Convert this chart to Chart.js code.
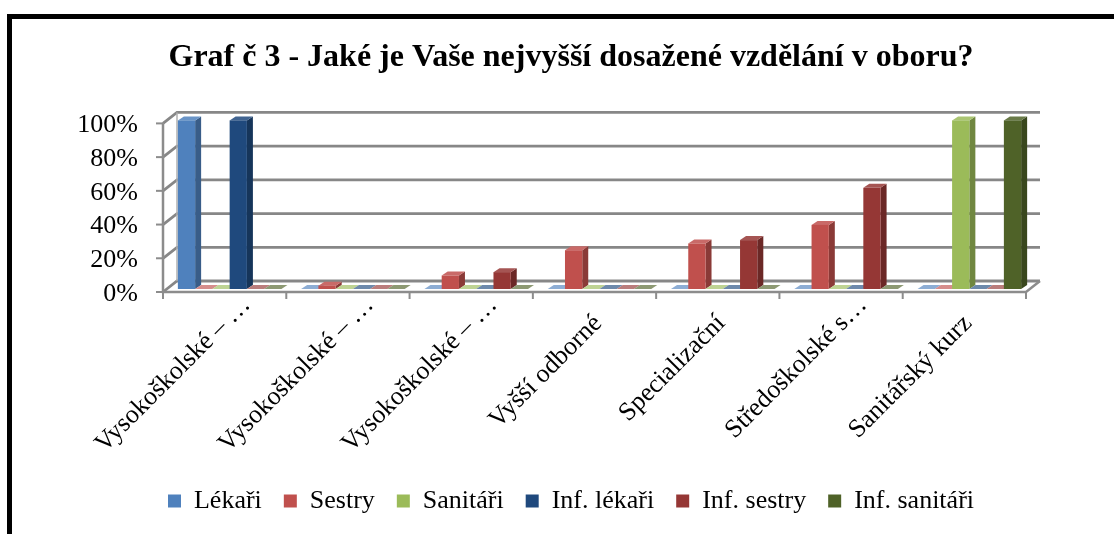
<!DOCTYPE html>
<html>
<head>
<meta charset="utf-8">
<script src="https://cdn.jsdelivr.net/npm/chart.js@4.4.0/dist/chart.umd.min.js"></script>
<style>
  html, body { margin: 0; padding: 0; background: #fff; overflow: hidden; }
  #wrap { position: relative; width: 1114px; height: 534px; }
  #ramecek { position: absolute; left: 7px; top: 14px; width: 1200px; height: 600px;
             border-top: 5px solid #000; border-left: 5px solid #000; pointer-events: none; }
</style>
</head>
<body>
<div id="wrap">
  <canvas id="graf" width="1114" height="534"></canvas>
  <div id="ramecek"></div>
</div>
<script>
const kategorie = ["Vysokoškolské – …", "Vysokoškolské – …", "Vysokoškolské – …", "Vyšší odborné",
                   "Specializační", "Středoškolské s…", "Sanitářský kurz"];
const serie = ["Lékaři", "Sestry", "Sanitáři", "Inf. lékaři", "Inf. sestry", "Inf. sanitáři"];
const lekari      = [100, 0, 0, 0, 0, 0, 0];
const sestry      = [0, 2, 8, 23, 27, 38, 0];
const sanitari    = [0, 0, 0, 0, 0, 0, 100];
const infLekari   = [100, 0, 0, 0, 0, 0, 0];
const infSestry   = [0, 0, 10, 0, 29, 60, 0];
const infSanitari = [0, 0, 0, 0, 0, 0, 100];
const osaY = [0, 20, 40, 60, 80, 100];
const barvy = ["#4F81BD", "#C0504D", "#9BBB59", "#1F497D", "#953735", "#4F6228"];

const pismo = '"Liberation Serif", "Times New Roman", serif';

// hloubka 3D efektu
const DX = 14, DY = -11;     // zadni stena
const bx = 6, by = -4;       // hloubka sloupce
const posun = 5;

function odstin(hex, k) {
  let r = parseInt(hex.slice(1, 3), 16), g = parseInt(hex.slice(3, 5), 16), b = parseInt(hex.slice(5, 7), 16);
  if (k < 1) { r *= k; g *= k; b *= k; }
  else { r += (255 - r) * (k - 1); g += (255 - g) * (k - 1); b += (255 - b) * (k - 1); }
  return `rgb(${Math.round(r)},${Math.round(g)},${Math.round(b)})`;
}

const hloubka = {
  id: 'hloubka',
  beforeDatasetDraw() { return false; },
  beforeDatasetsDraw(chart) {
    const {ctx, chartArea: a, scales: {y}} = chart;
    const f = v => y.getPixelForValue(v) + 3;
    const L = a.left, R = a.right;
    ctx.save();
    // podlaha
    ctx.fillStyle = '#fff';
    ctx.beginPath();
    ctx.moveTo(L, f(0)); ctx.lineTo(R, f(0)); ctx.lineTo(R + DX, f(0) + DY); ctx.lineTo(L + DX, f(0) + DY);
    ctx.closePath(); ctx.fill();
    // mrizka na zadni stene
    ctx.strokeStyle = '#878787';
    ctx.lineWidth = 2.8;
    osaY.forEach(v => {
      ctx.beginPath();
      ctx.moveTo(L, f(v)); ctx.lineTo(L + DX, f(v) + DY); ctx.lineTo(R + DX, f(v) + DY);
      ctx.stroke();
    });
    ctx.lineWidth = 1.5;
    ctx.strokeStyle = '#b0b0b0';
    ctx.beginPath();
    ctx.moveTo(L + DX, f(0) + DY); ctx.lineTo(L + DX, f(100) + DY);
    ctx.stroke();
    // predni osy
    ctx.strokeStyle = '#8c8c8c';
    ctx.lineWidth = 2.5;
    ctx.beginPath();
    ctx.moveTo(L, f(100)); ctx.lineTo(L, f(0)); ctx.lineTo(R, f(0)); ctx.lineTo(R + DX, f(0) + DY);
    ctx.stroke();
    ctx.lineWidth = 2;
    osaY.forEach(v => {
      ctx.beginPath(); ctx.moveTo(L - 7, f(v)); ctx.lineTo(L, f(v)); ctx.stroke();
    });
    const w = (R - L) / kategorie.length;
    for (let i = 0; i <= kategorie.length; i++) {
      ctx.beginPath(); ctx.moveTo(L + i * w, f(0)); ctx.lineTo(L + i * w, f(0) + 7); ctx.stroke();
    }
    ctx.restore();
  },
  afterDatasetsDraw(chart) {
    const ctx = chart.ctx;
    let sloupce = [];
    chart.data.datasets.forEach((ds, i) => {
      chart.getDatasetMeta(i).data.forEach(el => sloupce.push({el, barva: barvy[i]}));
    });
    sloupce.sort((p, q) => p.el.x - q.el.x);
    ctx.save();
    sloupce.forEach(({el, barva}) => {
      const {x, y, base, width} = el.getProps(['x', 'y', 'base', 'width'], true);
      const l = x - width / 2 + posun, r = x + width / 2 + posun;
      // bok
      ctx.fillStyle = odstin(barva, 0.72);
      ctx.beginPath();
      ctx.moveTo(r, y); ctx.lineTo(r + bx, y + by); ctx.lineTo(r + bx, base + by); ctx.lineTo(r, base);
      ctx.closePath(); ctx.fill();
      // vrsek
      ctx.fillStyle = odstin(barva, base - y < 1 ? 1.35 : 1.15);
      ctx.beginPath();
      ctx.moveTo(l, y); ctx.lineTo(l + bx, y + by); ctx.lineTo(r + bx, y + by); ctx.lineTo(r, y);
      ctx.closePath(); ctx.fill();
      // celo
      if (base - y > 0) {
        ctx.fillStyle = barva;
        ctx.fillRect(l, y, r - l, base - y);
      }
    });
    ctx.restore();
  }
};

new Chart(document.getElementById("graf"), {
  type: "bar",
  data: {
    labels: kategorie,
    datasets: [
      {label: serie[0], data: lekari, backgroundColor: barvy[0]},
      {label: serie[1], data: sestry, backgroundColor: barvy[1]},
      {label: serie[2], data: sanitari, backgroundColor: barvy[2]},
      {label: serie[3], data: infLekari, backgroundColor: barvy[3]},
      {label: serie[4], data: infSestry, backgroundColor: barvy[4]},
      {label: serie[5], data: infSanitari, backgroundColor: barvy[5]}
    ]
  },
  options: {
    responsive: false,
    animation: false,
    datasets: {bar: {categoryPercentage: 0.84, barPercentage: 1.0}},
    layout: {padding: {left: 28, right: 0, top: 0, bottom: 10}},
    plugins: {
      title: {
        display: true,
        text: "Graf č 3 - Jaké je Vaše nejvyšší dosažené vzdělání v oboru?",
        color: "#000",
        font: {family: pismo, size: 32, weight: "bold"},
        padding: {top: 39, bottom: 43}
      },
      legend: {
        position: "bottom",
        labels: {
          color: "#000",
          boxWidth: 13,
          boxHeight: 13,
          padding: 22,
          font: {family: pismo, size: 26}
        }
      },
      tooltip: {enabled: false}
    },
    scales: {
      x: {
        grid: {display: false},
        border: {display: false},
        ticks: {
          color: "#000",
          font: {family: pismo, size: 26},
          autoSkip: false,
          minRotation: 45,
          maxRotation: 45,
          labelOffset: 22,
          padding: -7,
          // nezkracene popisky Excel odsazuje od konce
          callback: (v, i) => kategorie[i].endsWith("…") ? kategorie[i] : kategorie[i] + "\u2003"
        },
        afterFit: (s) => { s.height = 177; }
      },
      y: {
        min: 0,
        max: 100,
        grid: {display: false},
        border: {display: false},
        ticks: {
          color: "#000",
          stepSize: 20,
          autoSkip: false,
          padding: 17,
          labelOffset: 5,
          font: {family: pismo, size: 26},
          callback: (v) => v + "%"
        },
        afterFit: (s) => { s.width = 135; }
      },
      y2: {
        position: "right",
        grid: {display: false},
        border: {display: false},
        ticks: {display: false},
        afterFit: (s) => { s.width = 88; }
      }
    }
  },
  plugins: [hloubka]
});
</script>
</body>
</html>
